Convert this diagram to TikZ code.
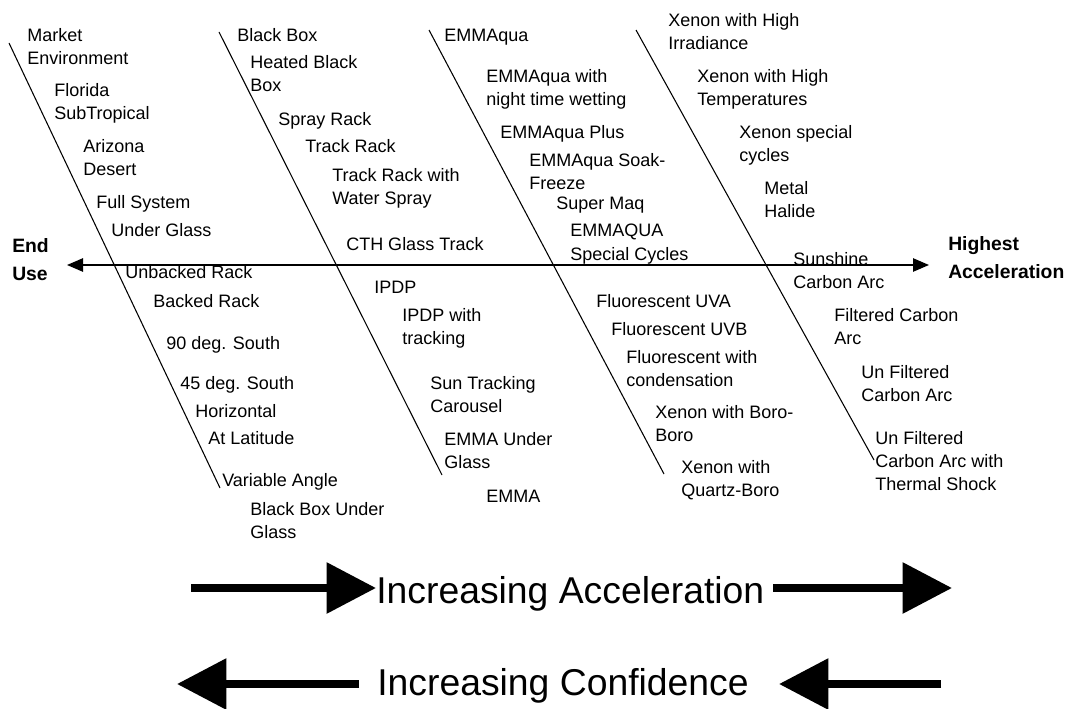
\documentclass[tikz,border=0pt]{standalone}
\usepackage{fontspec}
\setmainfont{Liberation Sans}
\usetikzlibrary{arrows.meta}

\begin{document}
\begin{tikzpicture}[
    x=0.75pt, y=-0.75pt,
    every node/.style={inner sep=0pt, anchor=base west, align=left},
    lbl/.style={font=\fontsize{13.5}{17.25}\selectfont},
    hdr/.style={font=\bfseries\fontsize{14.5}{20.5}\selectfont},
    big/.style={font=\fontsize{28}{34}\selectfont},
    rib/.style={line width=0.8pt},
    axis/.style={line width=1.1pt, {Triangle[length=12pt, width=10pt]}-{Triangle[length=12pt, width=10pt]}},
    fat/.style={line width=6pt, -{Triangle[length=37pt, width=37pt]}}
]
\useasboundingbox (0,0) rectangle (1077,709);

% ribs
\coordinate (r1top) at (9,43);    \coordinate (r1bot) at (220,488);
\coordinate (r2top) at (219,32);  \coordinate (r2bot) at (442,475);
\coordinate (r3top) at (429,30);  \coordinate (r3bot) at (664,474);
\coordinate (r4top) at (636,30);  \coordinate (r4bot) at (874,460);
\draw[rib] (r1top) -- (r1bot);
\draw[rib] (r2top) -- (r2bot);
\draw[rib] (r3top) -- (r3bot);
\draw[rib] (r4top) -- (r4bot);

% main axis (multi-line nodes sit on their last baseline)
\node[hdr] (enduse) at (12,280) {End\\Use};
\node[hdr] (highest) at (948,278) {Highest\\Acceleration};
\coordinate (axisL) at (67,265);
\coordinate (axisR) at (929,265);
\draw[axis] (axisL) -- (axisR);

% rib 1
\node[lbl] (mkt) at (27,65) {Market\\Environment};
\node[lbl] (fla) at (54,120) {Florida\\SubTropical};
\node[lbl] (ariz) at (83,176) {Arizona\\Desert};
\node[lbl] (fullsys) at (96,209) {Full System};
\node[lbl] (undgl) at (111,237) {Under Glass};
\node[lbl] (unback) at (125,278) {Unbacked Rack};
\node[lbl] (back) at (153,307) {Backed Rack};
\node[lbl] (south90) at (166,349) {90 deg. South};
\node[lbl] (south45) at (180,389) {45 deg. South};
\node[lbl] (horiz) at (195,417) {Horizontal};
\node[lbl] (atlat) at (208,444) {At Latitude};
\node[lbl] (varang) at (222,486) {Variable Angle};
\node[lbl] (bbug) at (250,538) {Black Box Under\\Glass};

% rib 2
\node[lbl] (bbox) at (237,42) {Black Box};
\node[lbl] (heated) at (250,92) {Heated Black\\Box};
\node[lbl] (spray) at (278,126) {Spray Rack};
\node[lbl] (track) at (305,153) {Track Rack};
\node[lbl] (trackw) at (332,205) {Track Rack with\\Water Spray};
\node[lbl] (cth) at (346,251) {CTH Glass Track};
\node[lbl] (ipdp) at (374,293) {IPDP};
\node[lbl] (ipdpt) at (402,344) {IPDP with\\tracking};
\node[lbl] (suntr) at (430,412) {Sun Tracking\\Carousel};
\node[lbl] (emmaug) at (444,468) {EMMA Under\\Glass};
\node[lbl] (emma) at (486,502) {EMMA};

% rib 3
\node[lbl] (aqua) at (444,42) {EMMAqua};
\node[lbl] (aquanw) at (486,106) {EMMAqua with\\night time wetting};
\node[lbl] (aquap) at (500,139) {EMMAqua Plus};
\node[lbl] (aquasf) at (529,190) {EMMAqua Soak-\\Freeze};
\node[lbl] (supmaq) at (556,210) {Super Maq};
\node[lbl] (aquasc) at (570,260) {EMMAQUA\\Special Cycles};
\node[lbl] (fuva) at (596,307) {Fluorescent UVA};
\node[lbl] (fuvb) at (611,335) {Fluorescent UVB};
\node[lbl] (fcond) at (626,386) {Fluorescent with\\condensation};
\node[lbl] (xboro) at (655,441) {Xenon with Boro-\\Boro};
\node[lbl] (xquartz) at (681,496) {Xenon with\\Quartz-Boro};

% rib 4
\node[lbl] (xirr) at (668,50) {Xenon with High\\Irradiance};
\node[lbl] (xtemp) at (697,106) {Xenon with High\\Temperatures};
\node[lbl] (xspec) at (739,162) {Xenon special\\cycles};
\node[lbl] (metal) at (764,218) {Metal\\Halide};
\node[lbl] (sunarc) at (793,288) {Sunshine\\Carbon Arc};
\node[lbl] (filt) at (834,344) {Filtered Carbon\\Arc};
\node[lbl] (unfilt) at (861,401) {Un Filtered\\Carbon Arc};
\node[lbl] (unfiltts) at (875,490) {Un Filtered\\Carbon Arc with\\Thermal Shock};

% bottom arrows
\node[big] (acc) at (376,603) {Increasing Acceleration};
\coordinate (accL) at (191,588);
\coordinate (accR1) at (773,588);
\coordinate (accR2) at (952,588);
\draw[fat] (accL) -- (acc.west |- accL);
\draw[fat] (accR1) -- (accR2);

\node[big] (conf) at (377,695) {Increasing Confidence};
\coordinate (confL) at (177,684);
\coordinate (confR1) at (941,684);
\coordinate (confR2) at (779,684);
\draw[fat] (conf.west |- confL) ++(-18,0) -- (confL);
\draw[fat] (confR1) -- (confR2);
\end{tikzpicture}
\end{document}
